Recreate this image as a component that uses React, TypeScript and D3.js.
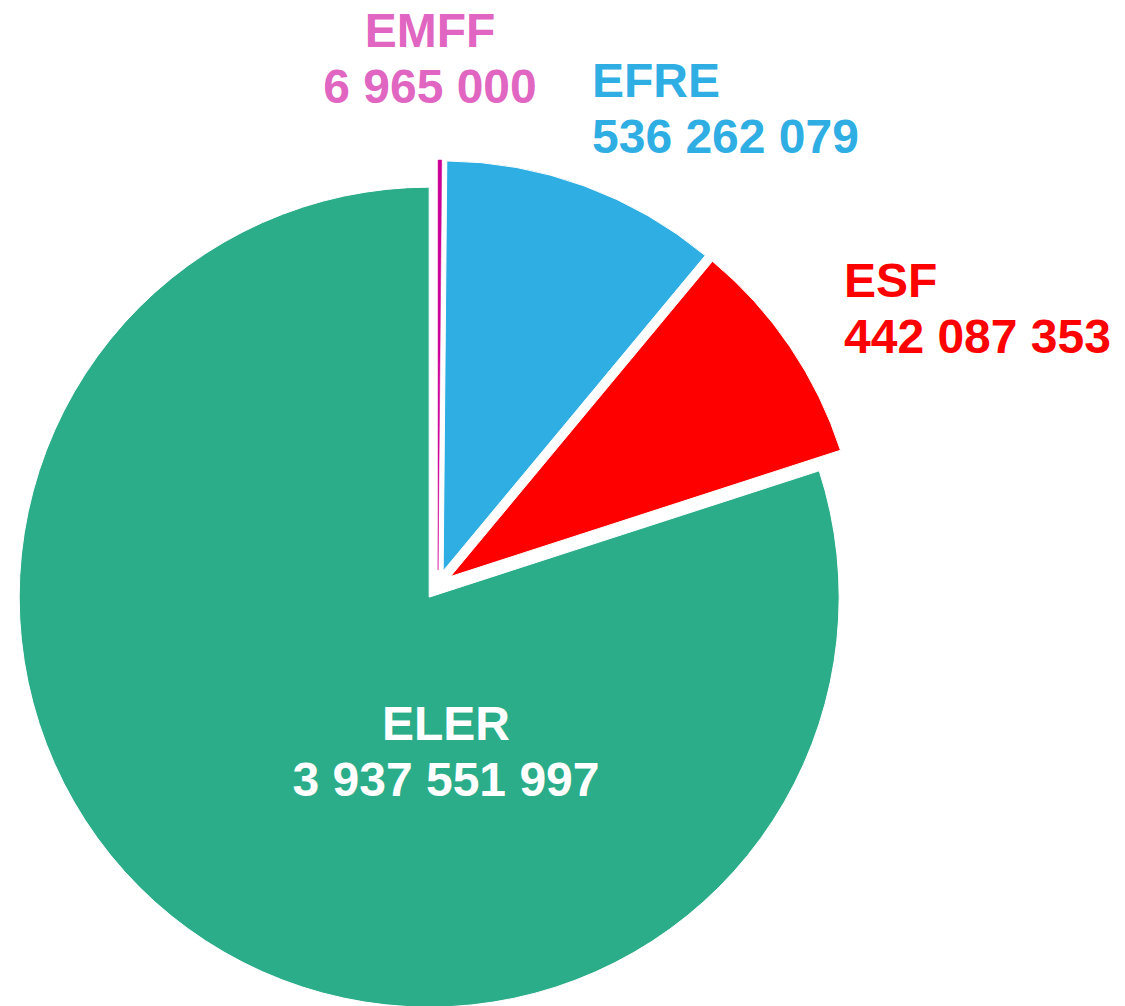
import React, { useEffect, useRef } from "react";
import * as d3 from "d3";

// EU-Fonds, Beträge in Euro
const funds = ["EMFF", "EFRE", "ESF", "ELER"];
const amounts = [6965000, 536262079, 442087353, 3937551997];
const sliceColors = ["#CC0099", "#2FAEE4", "#FF0000", "#2BAD8A"];
const labelColors = ["#E066C2", "#2FAEE4", "#FF0000", "#FFFFFF"];

// label placement (anchor, x, baseline of first line)
const labelLayout = {
  EMFF: { anchor: "middle", x: 430, y: 47 },
  EFRE: { anchor: "start", x: 592, y: 97 },
  ESF: { anchor: "start", x: 844, y: 297 },
  ELER: { anchor: "middle", x: 446, y: 740 },
};

const fmt = d3
  .formatLocale({ decimal: ",", thousands: " ", grouping: [3], currency: ["", ""] })
  .format(",d");

function App() {
  const svgRef = useRef(null);
  const width = 1125;
  const height = 1006;
  const cx = 438;
  const cy = 585;
  const radius = 410;
  const explode = 15;

  useEffect(() => {
    const svg = d3.select(svgRef.current);
    svg.selectAll("*").remove();

    const data = funds.map((f, i) => ({ fund: f, value: amounts[i], i }));
    const pie = d3
      .pie()
      .sort(null)
      .value((d) => d.value)
      .startAngle(0)
      .endAngle(2 * Math.PI);
    const arc = d3.arc().innerRadius(0).outerRadius(radius);

    const arcs = pie(data);

    const g = svg.append("g").attr("transform", `translate(${cx},${cy})`);

    g.selectAll("path")
      .data(arcs)
      .join("path")
      .attr("transform", (d) => {
        const mid = (d.startAngle + d.endAngle) / 2;
        return `translate(${explode * Math.sin(mid)},${-explode * Math.cos(mid)})`;
      })
      .attr("d", arc)
      .attr("fill", (d) => sliceColors[d.data.i])
      .attr("stroke", (d) => (d.data.i === 0 ? sliceColors[0] : "white"))
      .attr("stroke-width", (d) => (d.data.i === 0 ? 0.5 : 1));

    const labels = svg
      .append("g")
      .attr("font-family", "'Liberation Sans', Arial, sans-serif")
      .attr("font-weight", "bold")
      .attr("font-size", 48);

    funds.forEach((f, i) => {
      const pos = labelLayout[f];
      const t = labels
        .append("text")
        .attr("text-anchor", pos.anchor)
        .attr("fill", labelColors[i]);
      t.append("tspan").attr("x", pos.x).attr("y", pos.y).text(f);
      t.append("tspan")
        .attr("x", pos.x)
        .attr("y", pos.y + 56)
        .text(fmt(amounts[i]));
    });
  }, []);

  return (
    <svg
      ref={svgRef}
      width={width}
      height={height}
      style={{ position: "absolute", left: 0, top: 0, background: "white" }}
    />
  );
}

export default App;
